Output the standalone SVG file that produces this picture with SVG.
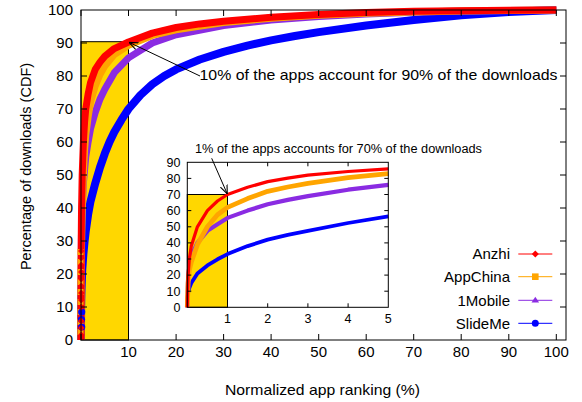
<svg xmlns="http://www.w3.org/2000/svg" width="582" height="402" viewBox="0 0 582 402">
<defs>
<style>
text{font-family:"Liberation Sans",Arial,sans-serif;fill:#000}
.t15{font-size:15px}
.t12{font-size:12.5px}
.end{text-anchor:end}
.mid{text-anchor:middle}
.frame{fill:none;stroke:#000;stroke-width:1}
.tick{fill:none;stroke:#000;stroke-width:1}
.box{fill:#ffd700;stroke:#000;stroke-width:1}
.c{fill:none;stroke-linejoin:round;stroke-linecap:butt}
.red{stroke:#ff0000}
.org{stroke:#ffa500}
.pur{stroke:#8a2be2}
.blu{stroke:#0000ff}
.arrow{fill:none;stroke:#000;stroke-width:1;marker-end:url(#ah)}
</style>
<marker id="ah" viewBox="0 0 10 10" refX="10" refY="5" markerWidth="9" markerHeight="9" markerUnits="userSpaceOnUse" orient="auto">
<path d="M0,1 L10,5 L0,9" fill="none" stroke="#000" stroke-width="1.2"/>
</marker>
</defs>
<rect width="582" height="402" fill="#fff"/>

<g id="main-plot">
<rect class="box" x="81" y="41.7" width="47.5" height="298.3"/>
<polyline class="c blu" stroke-width="8" points="81,340 81.02,323.5 81.1,310.3 81.24,300.4 81.48,290.5 82.19,270.7 83.38,254.2 84.56,241.7 85.75,231.1 88.1,214.6 90.5,201.4 95.26,183.3 100,167.4 104.8,153.6 109.5,142 114.3,132.1 121.4,119.9 128.5,109 140.4,95.1 152.3,84.3 164.2,76 176.1,69.4 199.8,59.5 223.6,51.9 247.4,45.6 271.1,40.4 294.9,36 318.7,32.1 366.2,25.5 413.7,20 461.2,15.3 508.8,12 556.3,10"/>
<polyline class="c pur" stroke-width="7" points="81,340 81.1,280.6 81.24,257.5 81.48,234.4 82.19,208 83.38,183.3 84.56,170 85.75,156.9 88.1,142 90.5,128.8 95.26,112.3 100,99.1 104.8,89.2 114.3,72.7 128.5,57.9 152.3,43 176.1,34.8 223.6,25.5 271.1,19.9 318.7,16.6 366.2,14 413.7,12.3 461.2,11 556.3,10"/>
<polyline class="c org" stroke-width="7" points="81,340 81.1,290.5 81.24,264.1 81.48,247.6 82.19,211.3 83.38,175 84.56,150.3 85.75,135.4 88.1,117.2 90.5,102.4 95.26,85.9 100,74.4 104.8,66.1 114.3,54.6 128.5,45.3 152.3,35.4 176.1,29.8 223.6,22.5 271.1,18.3 318.7,15.3 366.2,13.3 413.7,12 461.2,11 556.3,10"/>
<polyline class="c red" stroke-width="7" points="81,340 81.1,274 81.24,241 81.48,214.6 82.19,175 83.38,142 84.56,122.2 85.75,109 88.1,94.2 90.5,82.6 95.26,69.4 100,62.1 104.8,56.2 114.3,48.6 128.5,42 152.3,33.1 176.1,27.5 199.8,23.9 223.6,21.2 271.1,17.3 318.7,14.6 366.2,12.6 413.7,11.3 461.2,10.7 508.8,10.2 556.3,10"/>
<g id="axis-markers">
<g fill="#ffa500">
<rect x="77.5" y="329" width="6" height="6"/><rect x="77.5" y="319" width="6" height="6"/><rect x="77.5" y="309" width="6" height="6"/><rect x="77.5" y="299" width="6" height="6"/><rect x="77.5" y="289" width="6" height="6"/><rect x="77.5" y="279" width="6" height="6"/><rect x="77.5" y="269" width="6" height="6"/><rect x="77.5" y="259" width="6" height="6"/><rect x="77.5" y="249" width="6" height="6"/>
</g>
<g fill="#0000ff">
<circle cx="81.7" cy="327" r="3.6"/><circle cx="81.5" cy="319.5" r="3.6"/><circle cx="81.7" cy="312" r="3.6"/>
</g>
<g fill="#ff0000">
<path d="M81.3,331.5l3.3,3.5-3.3,3.5-3.3-3.5z"/><path d="M81.3,324.5l3.3,3.5-3.3,3.5-3.3-3.5z"/><path d="M81.3,317.5l3.3,3.5-3.3,3.5-3.3-3.5z"/><path d="M81.3,303.5l3.3,3.5-3.3,3.5-3.3-3.5z"/><path d="M81.3,296.5l3.3,3.5-3.3,3.5-3.3-3.5z"/><path d="M81.3,289.5l3.3,3.5-3.3,3.5-3.3-3.5z"/><path d="M81.3,282.5l3.3,3.5-3.3,3.5-3.3-3.5z"/><path d="M81.3,275.5l3.3,3.5-3.3,3.5-3.3-3.5z"/><path d="M81.3,268.5l3.3,3.5-3.3,3.5-3.3-3.5z"/><path d="M81.3,261.5l3.3,3.5-3.3,3.5-3.3-3.5z"/><path d="M81.3,254.5l3.3,3.5-3.3,3.5-3.3-3.5z"/><path d="M81.3,247.5l3.3,3.5-3.3,3.5-3.3-3.5z"/>
</g>
</g>
<rect class="frame" x="81" y="10" width="485" height="330"/>
<path class="tick" d="M81,340v-6M128.5,340v-6M176.1,340v-6M223.6,340v-6M271.1,340v-6M318.7,340v-6M366.2,340v-6M413.7,340v-6M461.2,340v-6M508.8,340v-6M556.3,340v-6M81,10v6M128.5,10v6M176.1,10v6M223.6,10v6M271.1,10v6M318.7,10v6M366.2,10v6M413.7,10v6M461.2,10v6M508.8,10v6M556.3,10v6M81,307h6M81,274h6M81,241h6M81,208h6M81,175h6M81,142h6M81,109h6M81,76h6M81,43h6M566,307h-6M566,274h-6M566,241h-6M566,208h-6M566,175h-6M566,142h-6M566,109h-6M566,76h-6M566,43h-6"/>
<g class="t15 end">
<text x="73" y="345">0</text><text x="73" y="312">10</text><text x="73" y="279">20</text><text x="73" y="246">30</text><text x="73" y="213">40</text><text x="73" y="180">50</text><text x="73" y="147">60</text><text x="73" y="114">70</text><text x="73" y="81">80</text><text x="73" y="48">90</text><text x="73" y="15">100</text>
</g>
<g class="t15 mid">
<text x="128.5" y="357">10</text><text x="176.1" y="357">20</text><text x="223.6" y="357">30</text><text x="271.1" y="357">40</text><text x="318.7" y="357">50</text><text x="366.2" y="357">60</text><text x="413.7" y="357">70</text><text x="461.2" y="357">80</text><text x="508.8" y="357">90</text><text x="556.3" y="357">100</text>
</g>
<text class="mid" style="font-size:14.5px" transform="translate(31,166.5) rotate(-90)">Percentage of downloads (CDF)</text>
<text class="t15 mid" x="322.5" y="394.5" textLength="195" lengthAdjust="spacingAndGlyphs">Normalized app ranking (%)</text>
<path class="arrow" d="M200,76 L129,42.3"/>
<text class="t15" x="199.5" y="79.5" textLength="358" lengthAdjust="spacingAndGlyphs">10% of the apps account for 90% of the downloads</text>
</g>

<g id="inset">
<rect x="187.3" y="162.3" width="201" height="145" fill="#fff"/>
<rect class="box" x="187.3" y="194.5" width="40.2" height="112.8"/>
<polyline class="c blu" stroke-width="3.8" points="187.3,307.3 187.5,299.2 188.1,292.8 189.3,288 191.3,283.1 197.4,273.5 207.4,265.4 217.5,259.3 227.5,254.1 247.6,246.1 267.7,239.6 287.8,234.8 307.9,230.8 348.1,223 388.3,216.3"/>
<polyline class="c pur" stroke-width="4.2" points="187.3,307.3 188.1,278.3 189.3,267 191.3,255.7 197.4,242.9 207.4,230.8 217.5,224.3 227.5,217.9 247.6,210.6 267.7,204.2 287.8,199.9 307.9,196.1 348.1,189.7 388.3,184.9"/>
<polyline class="c org" stroke-width="4.8" points="187.3,307.3 188.1,283.1 189.3,270.2 191.3,262.2 197.4,244.5 207.4,226.8 217.5,214.7 227.5,207.4 247.6,198.6 267.7,191.3 287.8,187 307.9,183.3 348.1,177.6 388.3,173.6"/>
<polyline class="c red" stroke-width="3.2" points="187.3,307.3 188.1,275.1 189.3,259 191.3,246.1 197.4,226.8 207.4,210.6 217.5,201 227.5,194.5 247.6,187.3 267.7,181.6 287.8,178.1 307.9,175.2 348.1,171.5 388.3,168.8"/>
<rect class="frame" x="187.3" y="162.3" width="201" height="145"/>
<path class="tick" d="M227.5,307.3v-4M267.7,307.3v-4M307.9,307.3v-4M348.1,307.3v-4M227.5,162.3v4M267.7,162.3v4M307.9,162.3v4M348.1,162.3v4M187.3,291.2h4M187.3,275.1h4M187.3,259h4M187.3,242.9h4M187.3,226.8h4M187.3,210.6h4M187.3,194.5h4M187.3,178.4h4M388.3,291.2h-4M388.3,275.1h-4M388.3,259h-4M388.3,242.9h-4M388.3,226.8h-4M388.3,210.6h-4M388.3,194.5h-4M388.3,178.4h-4"/>
<g class="t12 end">
<text x="180.5" y="311.6">0</text><text x="180.5" y="295.5">10</text><text x="180.5" y="279.4">20</text><text x="180.5" y="263.3">30</text><text x="180.5" y="247.2">40</text><text x="180.5" y="231.1">50</text><text x="180.5" y="214.9">60</text><text x="180.5" y="198.8">70</text><text x="180.5" y="182.7">80</text><text x="180.5" y="166.6">90</text>
</g>
<g class="t12 mid">
<text x="227.5" y="322.5">1</text><text x="267.7" y="322.5">2</text><text x="307.9" y="322.5">3</text><text x="348.1" y="322.5">4</text><text x="388.3" y="322.5">5</text>
</g>
<path class="arrow" d="M211.7,158.3 L227.3,194"/>
<text class="t12" x="195" y="153.3" textLength="287" lengthAdjust="spacingAndGlyphs">1% of the apps accounts for 70% of the downloads</text>
</g>

<g id="legend">
<g id="legend-anzhi">
<text class="t15 end" x="510" y="259.3">Anzhi</text>
<path d="M518.3,254H552.3" stroke="#ff0000" stroke-width="1"/>
<path d="M535.3,250.5l3.5,3.5-3.5,3.5-3.5-3.5z" fill="#ff0000"/>
</g>
<g id="legend-appchina">
<text class="t15 end" x="510" y="282">AppChina</text>
<path d="M518.3,276.7H552.3" stroke="#ffa500" stroke-width="1"/>
<rect x="532" y="273.4" width="6.6" height="6.6" fill="#ffa500"/>
</g>
<g id="legend-1mobile">
<text class="t15 end" x="510" y="305.6">1Mobile</text>
<path d="M518.3,300.3H552.3" stroke="#8a2be2" stroke-width="1"/>
<path d="M535.3,296.8l3.8,5.6h-7.6z" fill="#8a2be2"/>
</g>
<g id="legend-slideme">
<text class="t15 end" x="510" y="328.6">SlideMe</text>
<path d="M518.3,323.3H552.3" stroke="#0000ff" stroke-width="1"/>
<circle cx="535.3" cy="323.3" r="3.5" fill="#0000ff"/>
</g>
</g>
</svg>
